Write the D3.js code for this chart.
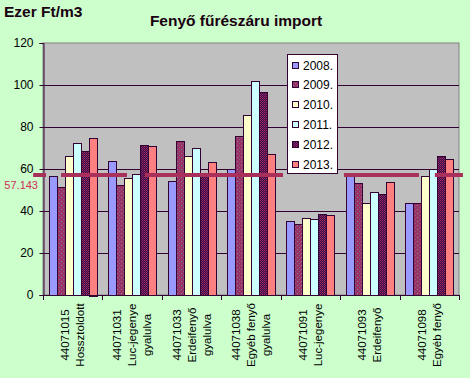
<!DOCTYPE html>
<html><head><meta charset="utf-8">
<script src="https://cdn.jsdelivr.net/npm/d3@7"></script>
<style>body{margin:0;background:#CCFFCC;}svg{display:block;font-family:"Liberation Sans",Arial,sans-serif;}</style>
</head><body>
<script>
const categories = ["44071015\nHossztoldott","44071031\nLuc-jegenye\ngyalulva","44071033\nErdeifenyő\ngyalulva","44071038\nEgyéb fenyő\ngyalulva","44071091\nLuc-jegenye","44071093\nErdeifenyő","44071098\nEgyéb fenyő"];
const years = ["2008.","2009.","2010.","2011.","2012.","2013."];
const v2008 = [56.5, 64, 54.3, 60, 35, 57.5, 44];
const v2009 = [51.4, 52.2, 73.3, 75.6, 34, 53.2, 44];
const v2010 = [66, 55.6, 66, 85.6, 36.5, 44, 56.7];
const v2011 = [72.2, 57.6, 69.8, 101.8, 36, 48.9, 60];
const v2012 = [68.4, 71.3, 57, 96.5, 38.4, 48, 66];
const v2013 = [75, 70.8, 63.2, 67, 38, 53.7, 64.8];
const yTicks = [0,20,40,60,80,100,120];
const refValue = 57.143;
// reference line pieces, in category units (0..7)
const refSegments = [[-0.2,0.084],[0.27,1.447],[1.683,4.072],[5.03,6.36],[6.56,7.1]];

const series = [v2008,v2009,v2010,v2011,v2012,v2013];
const W=470,H=378, L=43,R=459,T=43,B=295;
const svg = d3.select("body").append("svg").attr("width",W).attr("height",H);
svg.append("rect").attr("width",W).attr("height",H).attr("fill","#CCFFCC");

const defs = svg.append("defs");
const p1 = defs.append("pattern").attr("id","p2009").attr("width",4).attr("height",4).attr("patternUnits","userSpaceOnUse");
p1.append("rect").attr("width",4).attr("height",4).attr("fill","#993366");
p1.append("rect").attr("x",1).attr("y",1).attr("width",1).attr("height",1).attr("fill","#8a7fa8");
p1.append("rect").attr("x",3).attr("y",3).attr("width",1).attr("height",1).attr("fill","#7a6a90");
const p2 = defs.append("pattern").attr("id","p2012").attr("width",2).attr("height",2).attr("patternUnits","userSpaceOnUse");
p2.append("rect").attr("width",2).attr("height",2).attr("fill","#4a0040");
p2.append("rect").attr("x",0).attr("y",0).attr("width",1).attr("height",1).attr("fill","#a03060");
p2.append("rect").attr("x",1).attr("y",1).attr("width",1).attr("height",1).attr("fill","#603070");
const fills = ["#9999FF","url(#p2009)","#FFFFCC","#CCFFFF","url(#p2012)","#FF8080"];
const swatchFills = fills;
const glow = defs.append("filter").attr("id","glow").attr("x","-20%").attr("y","-200%").attr("width","140%").attr("height","500%");
glow.append("feGaussianBlur").attr("stdDeviation",1.2);

const x0 = d3.scaleBand().domain(categories).range([L,R]).paddingInner(0.19).paddingOuter(0.095);
const x1 = d3.scaleBand().domain(years).range([0,x0.bandwidth()]);
const xc = d3.scaleLinear().domain([0,categories.length]).range([L,R]);
const y = d3.scaleLinear().domain([0,120]).range([B,T]);

// plot area
svg.append("rect").attr("x",L).attr("y",T).attr("width",R-L).attr("height",B-T).attr("fill","#C0C0C0").attr("stroke","#808080");
// gridlines
svg.append("g").selectAll("line").data(yTicks.filter(d=>d>0&&d<120)).join("line")
  .attr("x1",L).attr("x2",R).attr("y1",d=>y(d)+0.5).attr("y2",d=>y(d)+0.5).attr("stroke","#330033");

// bars
const g = svg.append("g");
series.forEach((vals,si)=>{
  g.append("g").selectAll("rect").data(vals).join("rect")
    .attr("x",(d,i)=>Math.round(x0(categories[i])+x1(years[si]))+0.5)
    .attr("y",d=>Math.round(y(d))+0.5)
    .attr("width",Math.round(x1.bandwidth()))
    .attr("height",d=>Math.round(B-y(d)))
    .attr("fill",fills[si]).attr("stroke","#330033").attr("stroke-width",1);
});

// axes
const ya = svg.append("g").attr("transform",`translate(${L+0.5},0)`)
  .call(d3.axisLeft(y).tickValues(yTicks).tickSize(4).tickPadding(6));
ya.select(".domain").attr("stroke","#330033");
ya.selectAll(".tick line").attr("stroke","#330033");
ya.selectAll("text").attr("font-size","12px").attr("fill","#000").attr("font-family","Liberation Sans, Arial, sans-serif");

svg.append("line").attr("x1",L).attr("x2",R+0.5).attr("y1",B+0.5).attr("y2",B+0.5).attr("stroke","#330033");
svg.append("g").selectAll("line").data(d3.range(categories.length+1)).join("line")
  .attr("x1",d=>Math.round(xc(d))+0.5).attr("x2",d=>Math.round(xc(d))+0.5)
  .attr("y1",B).attr("y2",B+5).attr("stroke","#330033");

// reference line
const rg = svg.append("g");
rg.selectAll("line.gl").data(refSegments).join("line").attr("class","gl")
  .attr("x1",d=>xc(d[0])).attr("x2",d=>xc(d[1])).attr("y1",y(refValue)).attr("y2",y(refValue))
  .attr("stroke","#F4F49A").attr("stroke-width",9).attr("stroke-opacity",0.85).attr("filter","url(#glow)");
rg.selectAll("line.rl").data(refSegments).join("line").attr("class","rl")
  .attr("x1",d=>xc(d[0])+2).attr("x2",d=>xc(d[1])-2).attr("y1",y(refValue)).attr("y2",y(refValue))
  .attr("stroke","#A8305A").attr("stroke-width",4);
svg.append("text").attr("x",38).attr("y",y(refValue)+14).attr("text-anchor","end")
  .attr("font-size","11px").attr("fill","#D0305A").text(String(refValue));

// x labels
categories.forEach((c,i)=>{
  const lines = c.split("\n");
  const cx = x0(c)+x0.bandwidth()/2;
  lines.forEach((t,j)=>{
    const lx = cx + (j-(lines.length-1)/2)*15 + 4;
    svg.append("text").attr("transform",`translate(${lx},335) rotate(-90)`)
      .attr("text-anchor","middle").attr("font-size","11.5px").attr("fill","#000").text(t);
  });
});

// legend
const lg = svg.append("g");
lg.append("rect").attr("x",287.5).attr("y",54.5).attr("width",50).attr("height",119).attr("fill","#fff").attr("stroke","#330033");
years.forEach((yr,i)=>{
  const cy = 65 + i*19.8;
  lg.append("rect").attr("x",292.5).attr("y",Math.round(cy-3.5)+0.5).attr("width",6).attr("height",6)
    .attr("fill",swatchFills[i]).attr("stroke","#330033");
  lg.append("text").attr("x",303).attr("y",cy+4.5).attr("font-size","12px").attr("fill","#000").text(yr);
});

// titles
svg.append("text").attr("x",4).attr("y",17).attr("font-size","15.5px").attr("font-weight","bold").attr("fill","#1a0010").text("Ezer Ft/m3");
svg.append("text").attr("x",236).attr("y",26).attr("text-anchor","middle").attr("font-size","15.5px").attr("font-weight","bold").attr("fill","#1a0010").text("Fenyő fűrészáru import");
</script>
</body></html>
